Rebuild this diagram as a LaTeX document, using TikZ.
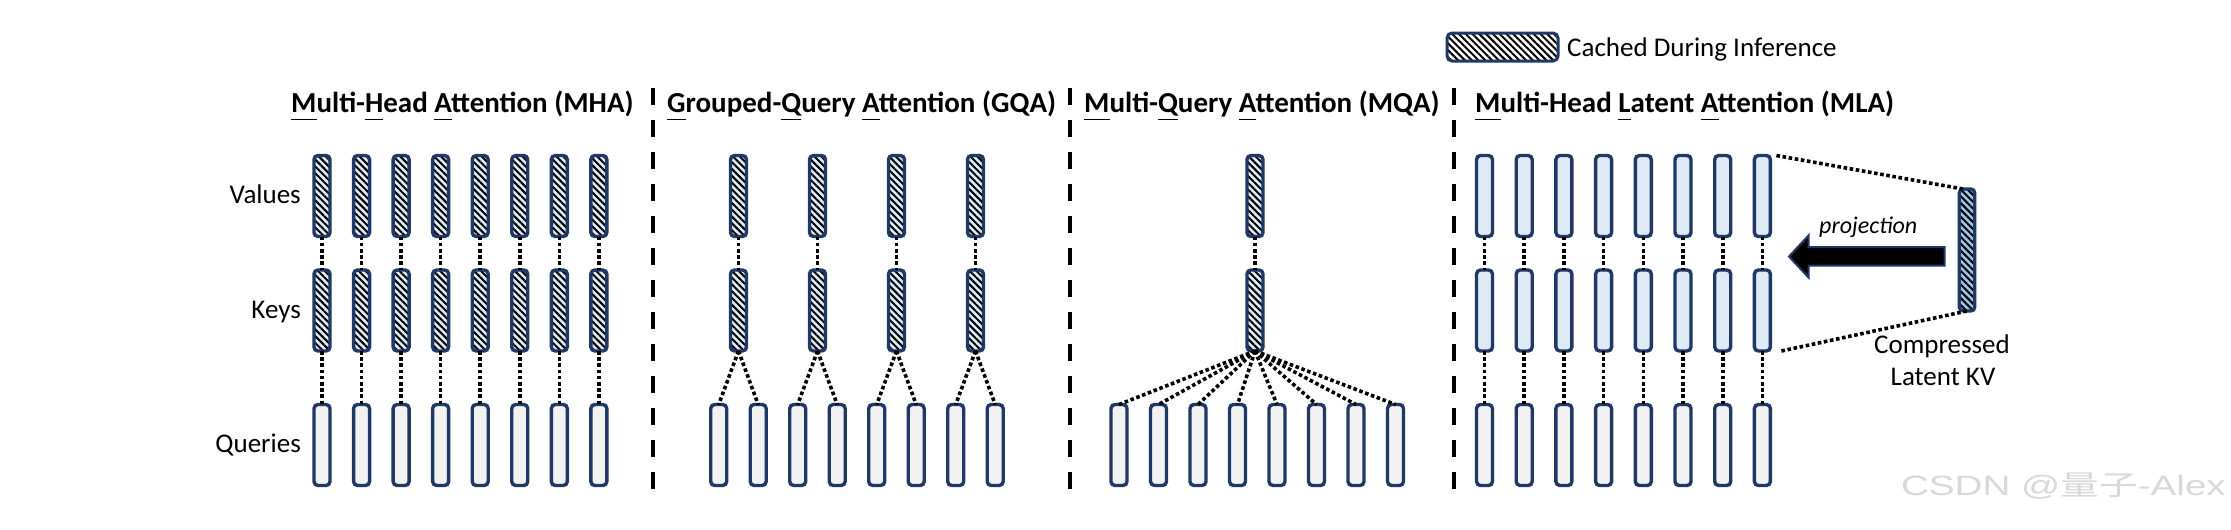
\documentclass[tikz,border=0pt]{standalone}
\usepackage{fontspec}
\usepackage{graphicx}
\setmainfont{Carlito}
\newfontfamily\wmfont{Liberation Sans}
\newfontfamily\cjkfont{Noto Sans CJK SC}
\usetikzlibrary{patterns.meta,calc}
\definecolor{navy}{HTML}{1F3864}
\definecolor{kvblue}{HTML}{DEEBF7}
\definecolor{qgray}{HTML}{F2F2F2}
\definecolor{latblue}{HTML}{9DC3E6}
\definecolor{wmgray}{HTML}{D8D8D8}
\newsavebox\flbox
\newcommand\fl[1]{\sbox\flbox{#1}\rlap{\rule[-8.3pt]{\wd\flbox}{1.8pt}}#1}
\tikzset{
  vec/.style={draw=navy, line width=3.4pt, rounded corners=4pt, minimum width=16pt,
    minimum height=81pt, inner sep=0pt, outer sep=0pt},
  hatch/.style={preaction={fill=#1}, pattern={Lines[angle=-45,distance=4.8pt,line width=2pt]},
    pattern color=black},
  qv/.style={vec, fill=qgray},
  kvc/.style={vec, hatch=kvblue},
  kvp/.style={vec, fill=kvblue},
  conn/.style={line width=3.6pt, dash pattern=on 3.6pt off 2.6pt, black},
  divider/.style={line width=4pt, dash pattern=on 17pt off 15pt, black},
  title/.style={font=\fontsize{29}{34}\selectfont\bfseries, anchor=base west, inner sep=0pt},
  lab/.style={font=\fontsize{27}{32}\selectfont, inner sep=0pt},
}
\begin{document}
\begin{tikzpicture}[x=1pt,y=-1pt]
\useasboundingbox[fill=white] (0,0) rectangle (2231,530);

% legend
\node[draw=navy, line width=3pt, rounded corners=5pt, minimum width=111pt, minimum height=28pt,
  inner sep=0pt, hatch=white] (leg) at (1502.5,47) {};
\node[lab, anchor=base west] (legt) at (1567,56.5) {Cached During Inference};

% titles
\node[title] (tmha) at (291,112) {\fl{M}ulti-\fl{H}ead \fl{A}ttention (MHA)};
\node[title] (tgqa) at (667,112) {\fl{G}rouped-\fl{Q}uery \fl{A}ttention (GQA)};
\node[title] (tmqa) at (1084,112) {\fl{M}ulti-\fl{Q}uery \fl{A}ttention (MQA)};
\node[title] (tmla) at (1475,112) {\fl{M}ulti-Head \fl{L}atent \fl{A}ttention (MLA)};

% row labels
\node[lab, anchor=base east] (lv) at (301,203) {Values};
\node[lab, anchor=base east] (lk) at (301,318) {Keys};
\node[lab, anchor=base east] (lq) at (301,452) {Queries};

% dividers
\coordinate (d1t) at (653,88);  \coordinate (d1b) at (653,492);
\coordinate (d2t) at (1070,88); \coordinate (d2b) at (1070,492);
\coordinate (d3t) at (1454,88); \coordinate (d3b) at (1454,492);
\draw[divider] (d1t) -- (d1b);
\draw[divider] (d2t) -- (d2b);
\draw[divider] (d3t) -- (d3b);

% MHA
\foreach \i in {0,...,7} {
  \pgfmathsetmacro\xx{322+39.55*\i}
  \node[kvc] (mhav\i) at (\xx,196) {};
  \node[kvc] (mhak\i) at (\xx,310.5) {};
  \node[qv] (mhaq\i) at (\xx,445) {};
  \draw[conn] (mhav\i.south) -- (mhak\i.north);
  \draw[conn] (mhak\i.south) -- (mhaq\i.north);
}

% GQA
\foreach \i in {0,...,3} {
  \pgfmathsetmacro\xx{738.5+79*\i}
  \node[kvc] (gqav\i) at (\xx,196) {};
  \node[kvc] (gqak\i) at (\xx,310.5) {};
  \draw[conn] (gqav\i.south) -- (gqak\i.north);
}
\foreach \j in {0,...,7} {
  \pgfmathsetmacro\xx{718.7+39.5*\j}
  \pgfmathtruncatemacro\g{int(\j/2)}
  \node[qv] (gqaq\j) at (\xx,445) {};
  \draw[conn] (gqak\g.south) -- (gqaq\j.north);
}

% MQA
\node[kvc] (mqav) at (1255,196) {};
\node[kvc] (mqak) at (1255,310.5) {};
\draw[conn] (mqav.south) -- (mqak.north);
\foreach \j in {0,...,7} {
  \pgfmathsetmacro\xx{1119+39.5*\j}
  \node[qv] (mqaq\j) at (\xx,445) {};
  \draw[conn] (mqak.south) -- (mqaq\j.north);
}

% MLA
\foreach \i in {0,...,7} {
  \pgfmathsetmacro\xx{1484.5+39.7*\i}
  \node[kvp] (mlav\i) at (\xx,196) {};
  \node[kvp] (mlak\i) at (\xx,310.5) {};
  \node[qv] (mlaq\i) at (\xx,445) {};
  \draw[conn] (mlav\i.south) -- (mlak\i.north);
  \draw[conn] (mlak\i.south) -- (mlaq\i.north);
}

% compressed latent
\node[vec, minimum width=15.5pt, minimum height=122pt, hatch=latblue] (lat) at (1967,250) {};
\draw[conn] ([xshift=6pt]mlav7.north east) -- ([xshift=-4pt]lat.north);
\draw[conn] ([xshift=11pt]mlak7.south east) -- (lat.south);

% projection arrow
\draw[draw=navy, line width=2pt, fill=black, line join=miter]
  (1944.5,247) -- (1808.5,247) -- (1808.5,235.5) -- (1789,256.5) -- (1808.5,277.5)
  -- (1808.5,265.7) -- (1944.5,265.7) -- cycle;
\node[font=\fontsize{24}{28}\selectfont\itshape, anchor=base west, inner sep=0pt] (proj) at (1819,233) {projection};
\node[lab, anchor=base] (comp1) at (1942,353) {Compressed};
\node[lab, anchor=base] (comp2) at (1943,385) {Latent KV};

% watermark
\node[anchor=base east, text=wmgray, inner sep=0pt, font=\fontsize{28}{32}\selectfont] (wm) at (2226,495)
  {\scalebox{1.38}[1]{\wmfont CSDN @\cjkfont 量子\wmfont -Alex}};
\end{tikzpicture}
\end{document}
